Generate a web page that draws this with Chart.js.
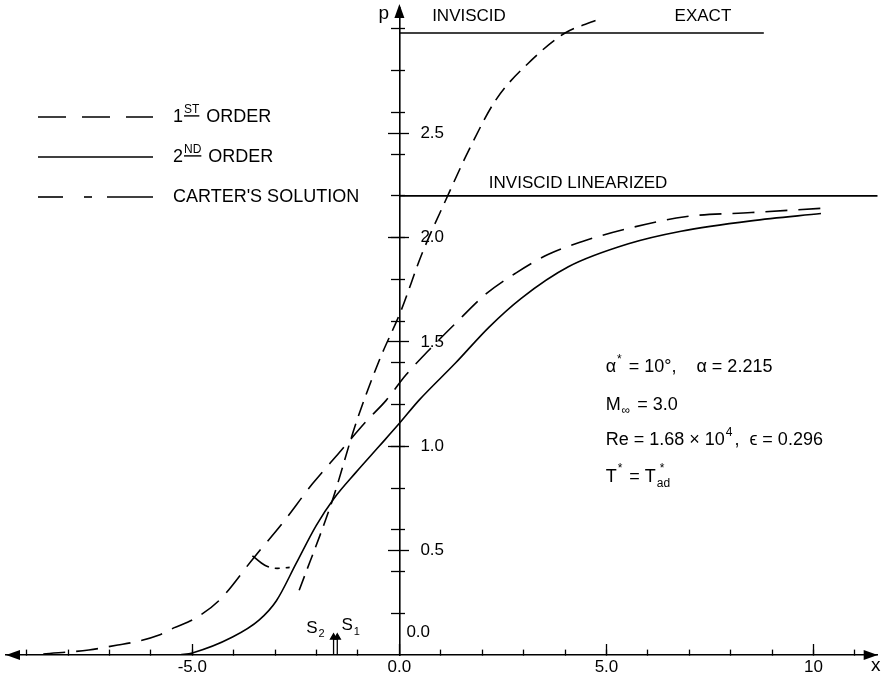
<!DOCTYPE html>
<html>
<head>
<meta charset="utf-8">
<script src="https://cdn.jsdelivr.net/npm/chart.js@4.4.1/dist/chart.umd.min.js"></script>
<style>
  html, body { margin: 0; padding: 0; background: #fff; }
  #wrap { width: 883px; height: 680px; }
</style>
</head>
<body>
<div id="wrap"><canvas id="myChart" width="883" height="680"></canvas></div>
<script>
// values (x, p)
const firstOrderX = [-8.6, -7.5, -6.8, -6.45, -5.8, -5.45, -5.0, -4.36, -3.5, -2.83, -2.1, -1.45, -0.8, -0.32, 0.15, 0.71, 1.36, 2.09, 2.81, 3.6, 4.4, 5.45, 6.9, 8.5, 10.17];
const firstOrderP = [0.005, 0.024, 0.048, 0.06, 0.096, 0.13, 0.168, 0.26, 0.47, 0.63, 0.82, 0.97, 1.12, 1.22, 1.34, 1.46, 1.59, 1.73, 1.83, 1.92, 1.98, 2.04, 2.10, 2.12, 2.14];

const secondOrderX = [-5.3, -5.0, -4.03, -3.39, -2.97, -2.49, -2.01, -1.58, -1.05, -0.49, 0.0, 0.47, 1.36, 2.16, 2.95, 4.08, 5.53, 6.8, 8.49, 10.18];
const secondOrderP = [0.0, 0.01, 0.086, 0.167, 0.26, 0.44, 0.62, 0.75, 0.875, 1.0, 1.11, 1.22, 1.40, 1.57, 1.71, 1.86, 1.97, 2.03, 2.08, 2.115];

const exactX = [-2.42, -1.62, -1.05, -0.49, 0.04, 0.54, 1.12, 1.68, 2.33, 3.19, 4.0, 4.74];
const exactP = [0.31, 0.74, 1.11, 1.41, 1.65, 1.92, 2.18, 2.42, 2.66, 2.85, 2.98, 3.04];

const carterX = [-3.55, -3.25, -2.95, -2.65];
const carterP = [0.475, 0.43, 0.415, 0.42];

const inviscidX = [0, 8.8];
const inviscidP = [2.98, 2.98];
const linearizedX = [0, 11.55];
const linearizedP = [2.2, 2.2];

const s2X = -1.59, s1X = -1.50, sTop = 0.085;

// axis ticks
const xMinorTicks = [-9, -8, -7, -6, -5, -4, -3, -2, -1, 1, 2, 3, 4, 5, 6, 7, 8, 9, 10, 11];
const xMajorTicks = [-5, 0, 5, 10];
const xTickLabels = ['-5.0', '0.0', '5.0', '10'];
const yMinorTicks = [0.2, 0.4, 0.6, 0.8, 1.0, 1.2, 1.4, 1.6, 1.8, 2.0, 2.2, 2.4, 2.6, 2.8, 3.0];
const yMajorTicks = [0.5, 1.0, 1.5, 2.0, 2.5];
const yTickLabels = ['0.5', '1.0', '1.5', '2.0', '2.5'];

const X_MIN = -9.5, X_MAX = 11.55, Y_MIN = 0, Y_MAX = 3.1;
const FONT = "'Liberation Sans', Arial, sans-serif";

const pts = (xs, ys) => xs.map((x, i) => ({ x: x, y: ys[i] }));

function line(label, data, dash, extra) {
  return Object.assign({
    label: label,
    data: data,
    showLine: true,
    borderColor: '#000',
    borderWidth: 1.6,
    borderDash: dash,
    pointRadius: 0,
    cubicInterpolationMode: 'monotone',
    fill: false
  }, extra || {});
}

// tick-only axis sitting on the other axis
function axis(dir, ticks, tl, opts) {
  const o = opts || {};
  return {
    type: 'linear',
    axis: dir,
    position: dir === 'x' ? { y: 0 } : { x: 0 },
    min: dir === 'x' ? X_MIN : Y_MIN,
    max: dir === 'x' ? X_MAX : Y_MAX,
    afterBuildTicks: (s) => { s.ticks = ticks.map(v => ({ value: v })); },
    grid: { display: true, drawOnChartArea: false, drawTicks: true, tickLength: tl, tickColor: '#000', tickWidth: 1.3 },
    border: { display: !!o.border, color: '#000', width: 1.6 },
    ticks: Object.assign({ display: false, autoSkip: false }, o.ticks || {})
  };
}

function drawRich(ctx, x, y, parts, size) {
  let cx = x;
  const small = Math.round(size * 0.66);
  for (const p of parts) {
    const t = p[0], kind = p[1];
    if (!kind) {
      ctx.font = size + 'px ' + FONT;
      ctx.fillText(t, cx, y);
      cx += ctx.measureText(t).width;
    } else if (kind === 'sup' || kind === 'supu') {
      ctx.font = small + 'px ' + FONT;
      ctx.fillText(t, cx + 1, y - size * 0.42);
      const w = ctx.measureText(t).width;
      if (kind === 'supu') ctx.fillRect(cx + 1, y - size * 0.1, w, 1.4);
      cx += w + 3;
    } else if (kind === 'sub') {
      ctx.font = small + 'px ' + FONT;
      ctx.fillText(t, cx + 1, y + size * 0.35);
      cx += ctx.measureText(t).width + 3;
    } else if (kind === 'supsub') {
      ctx.font = small + 'px ' + FONT;
      ctx.fillText(t, cx + 4, y - size * 0.42);
      ctx.fillText(p[2], cx + 1, y + size * 0.38);
      cx += Math.max(ctx.measureText(t).width, ctx.measureText(p[2]).width) + 3;
    }
  }
}

function tri(ctx, a, b, c) {
  ctx.beginPath();
  ctx.moveTo(a[0], a[1]); ctx.lineTo(b[0], b[1]); ctx.lineTo(c[0], c[1]);
  ctx.closePath();
  ctx.fill();
}

const annotate = {
  id: 'annotate',
  afterDraw(chart) {
    const ctx = chart.ctx;
    const xs = chart.scales.x, ys = chart.scales.y, area = chart.chartArea;
    const px = v => xs.getPixelForValue(v), py = v => ys.getPixelForValue(v);
    const x0 = px(0), y0 = py(0);
    ctx.save();
    ctx.fillStyle = '#000';
    ctx.strokeStyle = '#000';

    // axis arrowheads
    tri(ctx, [area.left, y0], [area.left + 14, y0 - 5], [area.left + 14, y0 + 5]);
    tri(ctx, [area.right, y0], [area.right - 14, y0 - 5], [area.right - 14, y0 + 5]);
    tri(ctx, [x0, area.top - 4], [x0 - 5, area.top + 10], [x0 + 5, area.top + 10]);

    // y tick labels, right of the axis
    ctx.textBaseline = 'middle';
    ctx.textAlign = 'left';
    ctx.font = '17px ' + FONT;
    yMajorTicks.forEach((v, i) => ctx.fillText(yTickLabels[i], x0 + 21, py(v)));
    ctx.fillText('0.0', x0 + 7, py(0.11));

    // axis names
    ctx.font = '19px ' + FONT;
    ctx.textAlign = 'center';
    ctx.fillText('p', px(-0.38), py(3.07));
    ctx.fillText('x', px(11.5), py(-0.05));

    // curve labels
    ctx.font = '17px ' + FONT;
    ctx.fillText('INVISCID', px(1.68), py(3.06));
    ctx.fillText('EXACT', px(7.33), py(3.06));
    ctx.textAlign = 'left';
    ctx.fillText('INVISCID LINEARIZED', px(2.16), py(2.26));

    // separation points
    drawRich(ctx, px(-2.25), py(0.13), [['S', ''], ['2', 'sub']], 17);
    drawRich(ctx, px(-1.4), py(0.14), [['S', ''], ['1', 'sub']], 17);

    // parameters
    const tx = px(4.98);
    drawRich(ctx, tx, py(1.38), [['\u03b1', ''], ['*', 'sup'], [' = 10\u00b0,    \u03b1 = 2.215', '']], 18);
    drawRich(ctx, tx, py(1.2), [['M', ''], ['\u221e', 'sub'], [' = 3.0', '']], 18);
    drawRich(ctx, tx, py(1.03), [['Re = 1.68 \u00d7 10', ''], ['4', 'sup'], [',  \u03f5 = 0.296', '']], 18);
    drawRich(ctx, tx, py(0.855), [['T', ''], ['*', 'sup'], [' = T', ''], ['*', 'supsub', 'ad']], 18);

    // legend
    ctx.lineWidth = 1.6;
    const rows = [
      { y: 117, dash: [28, 16], text: [['1', ''], ['ST', 'supu'], [' ORDER', '']] },
      { y: 157, dash: [], text: [['2', ''], ['ND', 'supu'], [' ORDER', '']] },
      { y: 197, dash: null, text: [["CARTER'S SOLUTION", '']] }
    ];
    rows.forEach(r => {
      if (r.dash) {
        ctx.setLineDash(r.dash);
        ctx.beginPath(); ctx.moveTo(38, r.y); ctx.lineTo(153, r.y); ctx.stroke();
      } else {
        ctx.setLineDash([]);
        [[38, 63], [84, 92], [107, 153]].forEach(s => {
          ctx.beginPath(); ctx.moveTo(s[0], r.y); ctx.lineTo(s[1], r.y); ctx.stroke();
        });
      }
      ctx.setLineDash([]);
      drawRich(ctx, 173, r.y, r.text, 18);
    });
    ctx.restore();
  }
};

const sMarker = { pointRadius: [0, 3.5], pointStyle: 'triangle', pointBackgroundColor: '#000', pointBorderColor: '#000', borderWidth: 1.3, cubicInterpolationMode: 'default' };

const chartConfig = {
  type: 'scatter',
  data: {
    datasets: [
      line('1st order', pts(firstOrderX, firstOrderP), [22, 11]),
      line('2nd order', pts(secondOrderX, secondOrderP), []),
      line('Exact', pts(exactX, exactP), [15, 8]),
      line("Carter's solution", pts(carterX, carterP), [20, 6, 5, 6]),
      line('Inviscid', pts(inviscidX, inviscidP), [], { cubicInterpolationMode: 'default' }),
      line('Inviscid linearized', pts(linearizedX, linearizedP), [], { cubicInterpolationMode: 'default' }),
      line('s2', [{ x: s2X, y: 0 }, { x: s2X, y: sTop }], [], sMarker),
      line('s1', [{ x: s1X, y: 0 }, { x: s1X, y: sTop }], [], sMarker)
    ]
  },
  options: {
    responsive: false,
    devicePixelRatio: 1,
    animation: false,
    layout: { padding: { left: 6, right: 3, top: 8, bottom: 25 } },
    plugins: { legend: { display: false }, tooltip: { enabled: false } },
    scales: {
      x: axis('x', xMinorTicks, -6, { border: true }),
      xM: axis('x', xMajorTicks, -11, {
        ticks: {
          display: true, color: '#000', padding: 13,
          font: { family: FONT, size: 17 },
          callback: (v) => xTickLabels[xMajorTicks.indexOf(v)]
        }
      }),
      y: axis('y', yMinorTicks, 8, { border: true }),
      yR: axis('y', yMinorTicks, -6),
      yM: axis('y', yMajorTicks, 11),
      yMR: axis('y', yMajorTicks, -10)
    }
  },
  plugins: [annotate]
};

const myChart = new Chart(document.getElementById('myChart'), chartConfig);
</script>
</body>
</html>
